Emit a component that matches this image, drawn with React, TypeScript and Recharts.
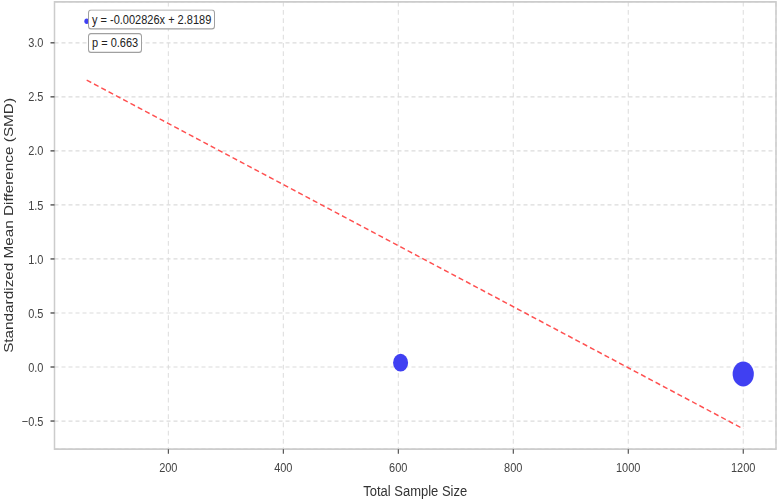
import React from 'react';
import {
  ScatterChart,
  Scatter,
  XAxis,
  YAxis,
  CartesianGrid,
  ReferenceArea,
} from 'recharts';

// ---- data ----
const sampleSizes = [58, 604, 1200];
const smdValues = [3.2, 0.04, -0.065];
const slope = -0.002826;
const intercept = 2.8189;
const pValue = '0.663';
const xTicks = [200, 400, 600, 800, 1000, 1200];
const yTicks = [-0.5, 0, 0.5, 1.0, 1.5, 2.0, 2.5, 3.0];
const xDomain: [number, number] = [2, 1257];
const yDomain: [number, number] = [-0.76, 3.38];

const points = sampleSizes.map((n, i) => ({ x: n, y: smdValues[i], n }));
const xMin = Math.min(...sampleSizes);
const xMax = Math.max(...sampleSizes);
const fitLine = [
  { x: xMin, y: intercept + slope * xMin },
  { x: xMax, y: intercept + slope * xMax },
];

const W = 778;
const H = 425;
const SY = 501 / H;
const FONT = '"Liberation Sans", Arial, Helvetica, sans-serif';

const Bubble = (props: any) => {
  const { cx, cy, payload } = props;
  if (cx == null || cy == null) return null;
  const r = 10.6 * Math.sqrt(payload.n / 1200);
  return <circle cx={cx} cy={cy} r={r} fill="#4040f2" />;
};

const NoShape = () => <g />;

const fmtY = (v: number) => {
  const s = Math.abs(v).toFixed(1);
  return v < 0 ? '\u2212' + s : s;
};

const boxStyle: React.CSSProperties = {
  position: 'absolute',
  background: '#ffffff',
  border: '1px solid #a0a0a0',
  borderRadius: 3,
  fontFamily: FONT,
  fontSize: 11,
  color: '#222',
  lineHeight: '15px',
  padding: '0 3px',
  whiteSpace: 'nowrap',
  boxSizing: 'border-box',
};

export default function App() {
  return (
    <div
      style={{
        position: 'absolute',
        left: 0,
        top: 0,
        width: W,
        height: 501,
        overflow: 'hidden',
        background: '#fff',
      }}
    >
      <div
        style={{
          position: 'relative',
          width: W,
          height: H,
          transform: `scale(1, ${SY})`,
          transformOrigin: '0 0',
        }}
      >
        <ScatterChart
          width={W}
          height={H}
          margin={{ top: 1.5, right: 2, bottom: 0, left: 0 }}
          style={{ fontFamily: FONT }}
        >
          <CartesianGrid stroke="#dcdcdc" strokeDasharray="4 3" />
          <XAxis
            type="number"
            dataKey="x"
            domain={xDomain}
            ticks={xTicks}
            allowDataOverflow
            height={44}
            axisLine={false}
            tickLine={{ stroke: '#333' }}
            tickSize={4}
            tickMargin={8}
            tick={{ fill: '#444', fontSize: 11 }}
            label={{
              value: 'Total Sample Size',
              position: 'insideBottom',
              offset: 4,
              fill: '#333',
              fontSize: 13,
            }}
          />
          <YAxis
            type="number"
            dataKey="y"
            domain={yDomain}
            ticks={yTicks}
            allowDataOverflow
            width={54.5}
            axisLine={false}
            tickLine={{ stroke: '#333' }}
            tickSize={4}
            tickMargin={7}
            tickFormatter={fmtY}
            tick={{ fill: '#444', fontSize: 11 }}
            label={{
              value: 'Standardized Mean Difference (SMD)',
              angle: -90,
              position: 'insideLeft',
              offset: 8,
              textAnchor: 'middle',
              fill: '#333',
              fontSize: 13,
            }}
          />
          <ReferenceArea
            x1={xDomain[0]}
            x2={xDomain[1]}
            y1={yDomain[0]}
            y2={yDomain[1]}
            fill="none"
            stroke="#cccccc"
            strokeWidth={1.5}
            ifOverflow="visible"
          />
          <Scatter
            data={fitLine}
            line={{ stroke: '#ff5050', strokeWidth: 1.3, strokeDasharray: '5 3' }}
            shape={NoShape}
            isAnimationActive={false}
          />
          <Scatter data={points} shape={Bubble} isAnimationActive={false} />
        </ScatterChart>
        <div style={{ ...boxStyle, left: 88, top: 8, height: 17 }}>
          {`y = ${slope}x + ${intercept}`}
        </div>
        <div style={{ ...boxStyle, left: 88, top: 27.5, height: 17 }}>
          {`p = ${pValue}`}
        </div>
      </div>
    </div>
  );
}
